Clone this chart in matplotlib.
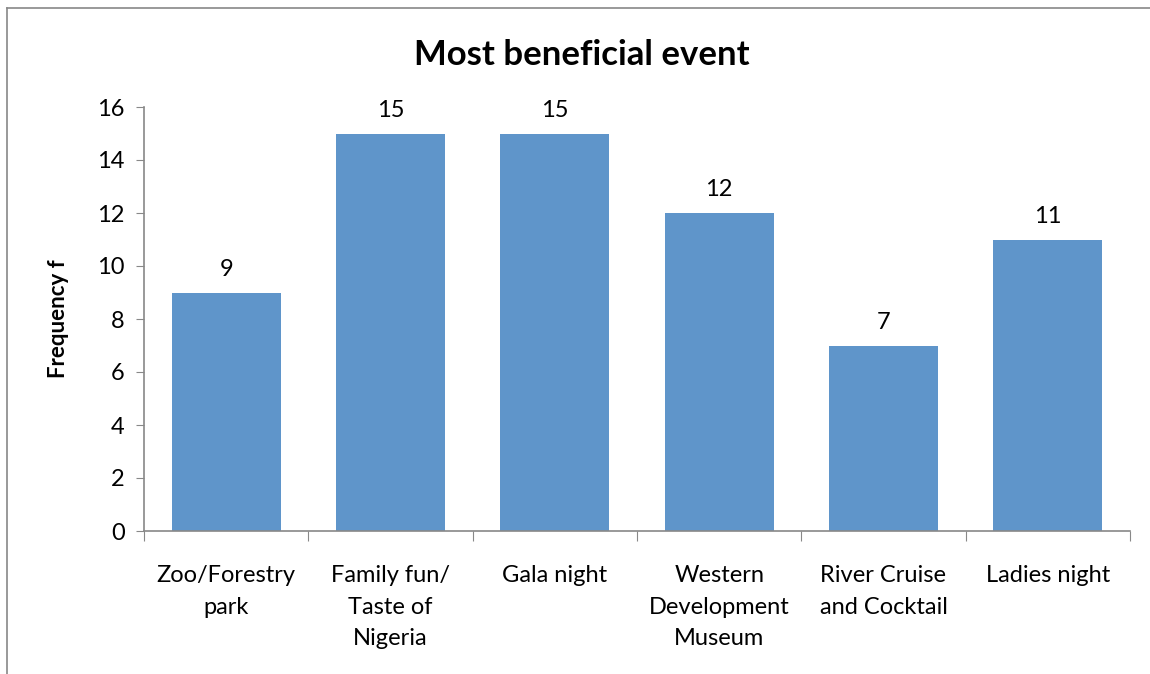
import matplotlib.pyplot as plt
from matplotlib.lines import Line2D

categories = ['Zoo/Forestry\npark', 'Family fun/\nTaste of\nNigeria', 'Gala night',
              'Western\nDevelopment\nMuseum', 'River Cruise\nand Cocktail', 'Ladies night']
values = [9, 15, 15, 12, 7, 11]
yticks = [0, 2, 4, 6, 8, 10, 12, 14, 16]

plt.rcParams['font.family'] = ['Lato', 'DejaVu Sans']

fig = plt.figure(figsize=(11.5, 6.74), dpi=100)
ax = fig.add_axes([144/1150, 1-531/674, (1130-144)/1150, (531-107)/674])

x = list(range(len(values)))
ax.bar(x, values, width=0.665, color='#5f95ca', zorder=2)
for xi, v in zip(x, values):
    ax.annotate(str(v), (xi, v), xytext=(0, 9), textcoords='offset points',
                ha='center', va='bottom', fontsize=17)

ax.set_xlim(-0.5, len(values) - 0.5)
ax.set_ylim(0, 16)
ax.set_yticks(yticks)
ax.tick_params(axis='y', labelsize=17, length=6, color='#888888', direction='out', pad=8)

# category labels between boundary ticks
ax.set_xticks([i - 0.5 for i in range(len(values) + 1)])
ax.set_xticklabels([])
ax.tick_params(axis='x', length=7, color='#888888', direction='out')
for xi, lab in zip(x, categories):
    ax.text(xi, -1.3, lab, ha='center', va='top', fontsize=17, linespacing=1.6,
            transform=ax.transData)

for s in ['top', 'right']:
    ax.spines[s].set_visible(False)
for s in ['left', 'bottom']:
    ax.spines[s].set_color('#888888')
    ax.spines[s].set_linewidth(1.2)

ax.set_ylabel('Frequency f', fontsize=16, fontweight='bold', labelpad=20)
fig.text(582/1150, 1-55/674, 'Most beneficial event', ha='center', va='center',
         fontsize=25, fontweight='bold')

# outer chart frame
fig.add_artist(Line2D([7/1150, 7/1150], [0, 1-8/674], color='#888888', lw=1.2, transform=fig.transFigure))
fig.add_artist(Line2D([7/1150, 1], [1-8/674, 1-8/674], color='#888888', lw=1.2, transform=fig.transFigure))

fig.savefig('out.png', dpi=100)
